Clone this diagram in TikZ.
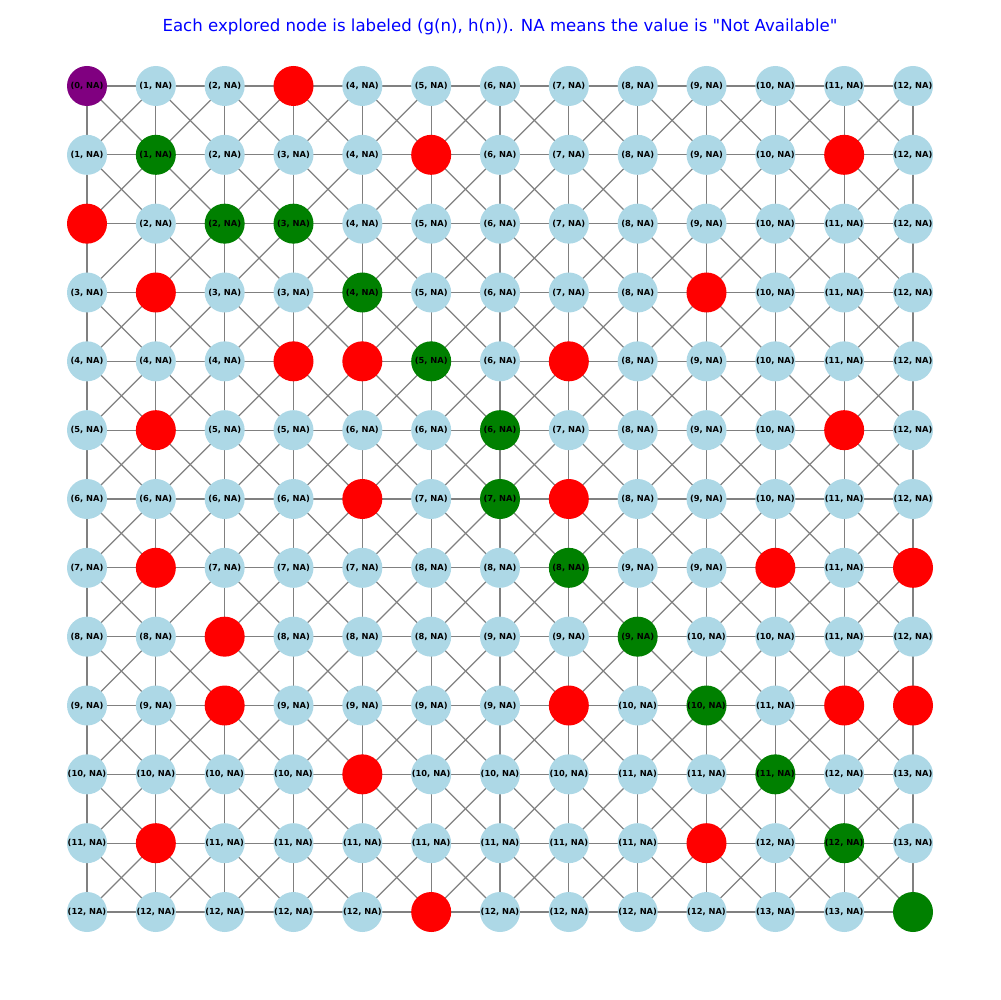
\documentclass[tikz,border=0pt]{standalone}
\usepackage{fontspec}
\setmainfont{DejaVu Sans}[Ligatures=TeXOff]
\pgfdeclarelayer{bg}
\pgfsetlayers{bg,main}
\definecolor{lb}{HTML}{ADD8E6}
\definecolor{gr}{HTML}{008000}
\definecolor{rd}{HTML}{FF0000}
\definecolor{pu}{HTML}{800080}
\definecolor{eg}{HTML}{808080}
\definecolor{tb}{HTML}{0000FF}
\newcommand\myedge[4]{%
  \ifcsname red-#1-#2\endcsname
    \ifcsname red-#3-#4\endcsname\else\draw[edge] (n-#1-#2.center) -- (n-#3-#4.center);\fi
  \else
    \draw[edge] (n-#1-#2.center) -- (n-#3-#4.center);
  \fi}
\begin{document}
\begin{tikzpicture}[x=0.0254cm,y=-0.0254cm,
  cell/.style={circle,minimum size=40*0.0254cm,inner sep=0pt,draw=none,
    font=\bfseries\fontsize{6}{7}\selectfont},
  tb/.style={fill=lb,node contents={(#1, NA)}},
  tg/.style={fill=gr,node contents={(#1, NA)}},
  tp/.style={fill=pu,node contents={(#1, NA)}},
  tr/.style={fill=rd,node contents={}},
  te/.style={fill=gr,node contents={}},
  edge/.style={draw=eg,line width=0.9pt},
  title/.style={text=tb,font=\fontsize{12}{14}\selectfont,inner sep=0pt}]
\useasboundingbox (0,0) rectangle (1000,1000);
\node[title] (title) at (500,27) {Each explored node is labeled (g(n), h(n)). NA means the value is "Not Available"};
\foreach \row [count=\rr from 0] in {
 {p/0,b/1,b/2,r/x,b/4,b/5,b/6,b/7,b/8,b/9,b/10,b/11,b/12},
 {b/1,g/1,b/2,b/3,b/4,r/x,b/6,b/7,b/8,b/9,b/10,r/x,b/12},
 {r/x,b/2,g/2,g/3,b/4,b/5,b/6,b/7,b/8,b/9,b/10,b/11,b/12},
 {b/3,r/x,b/3,b/3,g/4,b/5,b/6,b/7,b/8,r/x,b/10,b/11,b/12},
 {b/4,b/4,b/4,r/x,r/x,g/5,b/6,r/x,b/8,b/9,b/10,b/11,b/12},
 {b/5,r/x,b/5,b/5,b/6,b/6,g/6,b/7,b/8,b/9,b/10,r/x,b/12},
 {b/6,b/6,b/6,b/6,r/x,b/7,g/7,r/x,b/8,b/9,b/10,b/11,b/12},
 {b/7,r/x,b/7,b/7,b/7,b/8,b/8,g/8,b/9,b/9,r/x,b/11,r/x},
 {b/8,b/8,r/x,b/8,b/8,b/8,b/9,b/9,g/9,b/10,b/10,b/11,b/12},
 {b/9,b/9,r/x,b/9,b/9,b/9,b/9,r/x,b/10,g/10,b/11,r/x,r/x},
 {b/10,b/10,b/10,b/10,r/x,b/10,b/10,b/10,b/11,b/11,g/11,b/12,b/13},
 {b/11,r/x,b/11,b/11,b/11,b/11,b/11,b/11,b/11,r/x,b/12,g/12,b/13},
 {b/12,b/12,b/12,b/12,b/12,r/x,b/12,b/12,b/12,b/12,b/13,b/13,e/x}} {
  \foreach \tt/\ll [count=\cc from 0] in \row {
    \pgfmathsetmacro\px{87+68.8333*\cc}
    \pgfmathsetmacro\py{86+68.8333*\rr}
    \node (n-\rr-\cc) at (\px,\py) [cell,t\tt=\ll];
    \def\tmpr{r}\edef\tmpt{\tt}
    \ifx\tmpt\tmpr \expandafter\xdef\csname red-\rr-\cc\endcsname{}\fi
  }
}
\begin{pgfonlayer}{bg}
\foreach \rr in {0,...,12} {
  \foreach \cc in {0,...,12} {
    \pgfmathtruncatemacro\rn{\rr+1}
    \pgfmathtruncatemacro\cn{\cc+1}
    \pgfmathtruncatemacro\cp{\cc-1}
    \ifnum\cc<12 \myedge{\rr}{\cc}{\rr}{\cn}\fi
    \ifnum\rr<12
      \myedge{\rr}{\cc}{\rn}{\cc}
      \ifnum\cc<12 \myedge{\rr}{\cc}{\rn}{\cn}\fi
      \ifnum\cc>0 \myedge{\rr}{\cc}{\rn}{\cp}\fi
    \fi
  }
}
\end{pgfonlayer}
\end{tikzpicture}
\end{document}
